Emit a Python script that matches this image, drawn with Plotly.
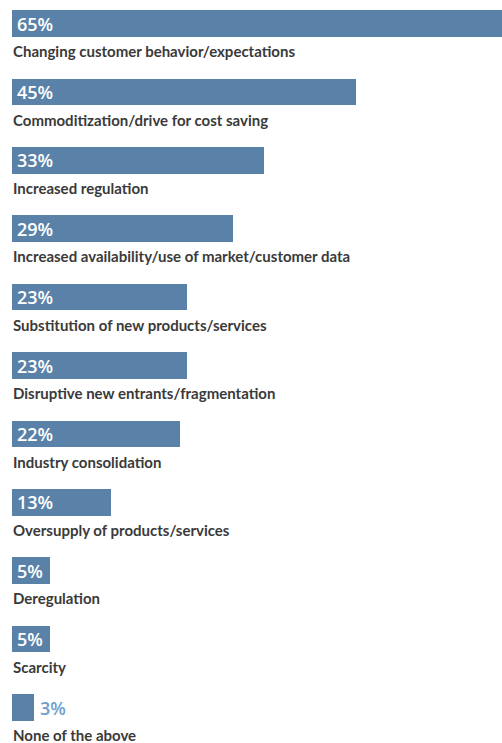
import plotly.graph_objects as go

categories = [
    "Changing customer behavior/expectations",
    "Commoditization/drive for cost saving",
    "Increased regulation",
    "Increased availability/use of market/customer data",
    "Substitution of new products/services",
    "Disruptive new entrants/fragmentation",
    "Industry consolidation",
    "Oversupply of products/services",
    "Deregulation",
    "Scarcity",
    "None of the above",
]
values = [65, 45, 33, 29, 23, 23, 22, 13, 5, 5, 3]
value_labels = [f"{v}%" for v in values]

BAR_COLOR = "#5a82a8"
TEXT_DARK = "#3a3a3a"
OUT_TEXT = "#6f9fd0"
INSIDE_MIN = 5  # values below this get their label outside the bar

rows = list(range(len(categories)))

fig = go.Figure()
fig.add_trace(go.Bar(
    x=values,
    y=rows,
    orientation="h",
    width=0.39,
    marker=dict(color=BAR_COLOR, line=dict(width=0)),
    hoverinfo="skip",
))

for i, (cat, v, lab) in enumerate(zip(categories, values, value_labels)):
    fig.add_annotation(
        x=0, y=i + 0.405, xref="x", yref="y",
        text=cat, showarrow=False,
        xanchor="left", yanchor="middle", xshift=-1,
        font=dict(family="Lato", size=15, color=TEXT_DARK, weight="bold"),
    )
    inside = v >= INSIDE_MIN
    fig.add_annotation(
        x=0 if inside else v, y=i, xref="x", yref="y",
        text=lab, showarrow=False,
        xanchor="left", yanchor="middle", xshift=3 if inside else 4,
        font=dict(family="Open Sans", size=18,
                  color="white" if inside else OUT_TEXT, weight=600),
    )

fig.update_layout(
    width=502, height=743,
    margin=dict(l=0, r=0, t=0, b=0),
    paper_bgcolor="white", plot_bgcolor="white",
    showlegend=False,
    bargap=0,
)
fig.update_xaxes(range=[-1.503, 64.12], visible=False, fixedrange=True)
fig.update_yaxes(range=[10.519, -0.3436], visible=False, fixedrange=True)

fig.write_html(
    "out.html",
    config={"displayModeBar": False},
    post_script="document.body.style.margin='0';document.body.style.overflow='hidden';",
)
